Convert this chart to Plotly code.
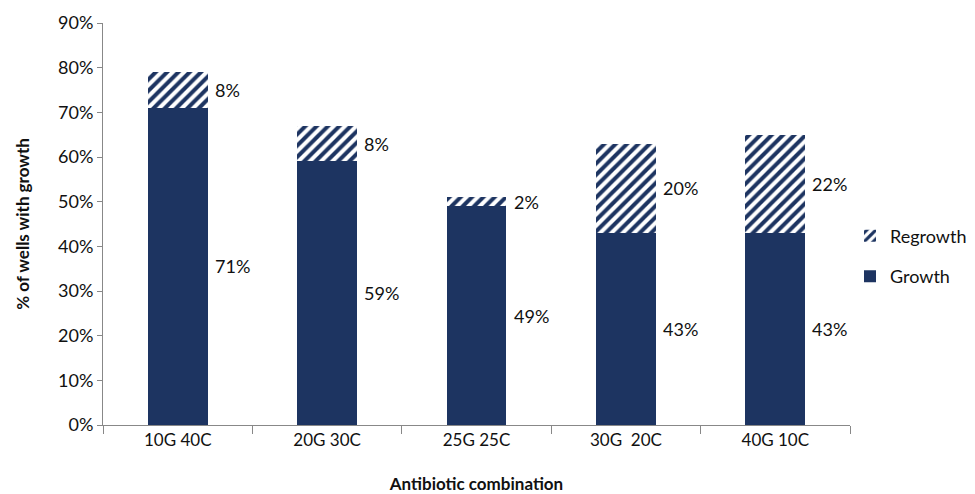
import plotly.graph_objects as go

# Antibiotic combinations and % of wells with growth / regrowth
combinations = ["10G 40C", "20G 30C", "25G 25C", "30G  20C", "40G 10C"]
growth = [71, 59, 49, 43, 43]
regrowth = [8, 8, 2, 20, 22]
y_ticks = [0, 10, 20, 30, 40, 50, 60, 70, 80, 90]

navy = "#1d3461"
font_family = "Lato, 'Open Sans', sans-serif"
bar_width = 0.4

fig = go.Figure()
fig.add_trace(go.Bar(
    x=combinations, y=growth, name="Growth", width=bar_width,
    marker=dict(color=navy, line=dict(width=0)),
    legendgroup="g", legendrank=2, hoverinfo="skip",
))
fig.add_trace(go.Bar(
    x=combinations, y=regrowth, name="Regrowth", width=bar_width,
    marker=dict(
        color="white", line=dict(width=0),
        pattern=dict(shape="/", fgcolor=navy, bgcolor="white", fgopacity=1,
                     size=8, solidity=0.5, fillmode="replace"),
    ),
    legendgroup="r", legendrank=1, hoverinfo="skip",
))

# Value labels to the right of each segment, centred vertically
for c, g, r in zip(combinations, growth, regrowth):
    fig.add_annotation(x=c, y=g / 2, text=f"{g}%", showarrow=False,
                       xanchor="left", xshift=35, font=dict(size=18, color="#111"))
    fig.add_annotation(x=c, y=g + r / 2, text=f"{r}%", showarrow=False,
                       xanchor="left", xshift=35, font=dict(size=18, color="#111"))

fig.update_layout(
    barmode="stack",
    width=975, height=494,
    margin=dict(l=103, r=125, t=23, b=69, autoexpand=False),
    plot_bgcolor="white", paper_bgcolor="white",
    font=dict(family=font_family, size=17, color="#111"),
    legend=dict(x=1.0, y=0.42, xanchor="left", yanchor="middle",
                traceorder="grouped", tracegroupgap=14, itemwidth=30,
                font=dict(size=18)),
    xaxis=dict(
        title=dict(text="<b>Antibiotic combination</b>", font=dict(size=17), standoff=34),
        showline=True, linecolor="#888", linewidth=1, automargin=False,
        ticks="outside", tickson="boundaries", ticklen=8, tickcolor="#888",
        tickfont=dict(size=17),
    ),
    yaxis=dict(
        title=dict(text="<b>% of wells with growth</b>", font=dict(size=17), standoff=24),
        range=[0, 90], tickvals=y_ticks, ticktext=[f"{v}%" for v in y_ticks],
        showline=True, linecolor="#888", linewidth=1, automargin=False,
        ticks="outside", ticklen=5, tickcolor="#888",
        showgrid=False, zeroline=False, tickfont=dict(size=18),
    ),
)

fig.write_html("out.html")
